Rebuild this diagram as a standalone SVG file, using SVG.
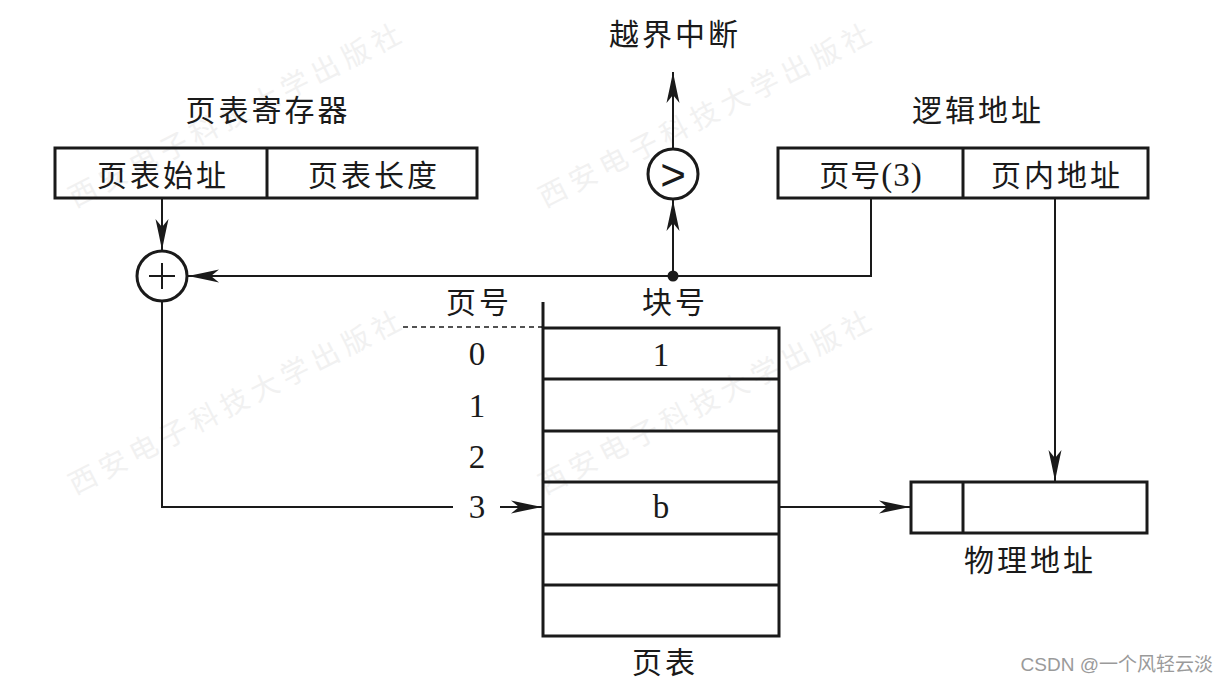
<svg xmlns="http://www.w3.org/2000/svg" width="1229" height="683" viewBox="0 0 1229 683">
<style>
.box{fill:none;stroke:#1a1a1a;stroke-width:3}
.ln{fill:none;stroke:#1a1a1a;stroke-width:2}
.cn{font-family:"Noto Sans CJK SC","Noto Sans",sans-serif;font-size:30px;fill:#1a1a1a;text-anchor:middle;letter-spacing:3px}
.num{font-family:"Liberation Serif",serif;font-size:33px;fill:#1a1a1a;text-anchor:middle}
.wm{font-family:"Noto Sans CJK SC",sans-serif;font-size:28px;fill:#f1f1f1;letter-spacing:6px}
</style>
<defs>
<marker id="ah" markerUnits="userSpaceOnUse" markerWidth="32" markerHeight="14" refX="31" refY="7" orient="auto">
<path d="M0,0.5 Q16,4 31,7 Q16,10 0,13.5 L8,7 z" fill="#1a1a1a"/>
</marker>
</defs>
<rect width="1229" height="683" fill="#ffffff"/>
<g id="watermarks">
<text class="wm" transform="translate(75,495) rotate(-27)">西安电子科技大学出版社</text>
<text class="wm" transform="translate(545,495) rotate(-27)">西安电子科技大学出版社</text>
<text class="wm" transform="translate(75,208) rotate(-27)">西安电子科技大学出版社</text>
<text class="wm" transform="translate(545,208) rotate(-27)">西安电子科技大学出版社</text>
</g>
<g id="connectors">
<line class="ln" x1="162" y1="199" x2="162" y2="250" marker-end="url(#ah)"/>
<polyline class="ln" points="871,199 871,276 188,276" marker-end="url(#ah)"/>
<line class="ln" x1="673" y1="276" x2="673" y2="200" marker-end="url(#ah)"/>
<line class="ln" x1="673" y1="148" x2="673" y2="72" marker-end="url(#ah)"/>
<polyline class="ln" points="162,302 162,507 453,507"/>
<line class="ln" x1="500" y1="507" x2="542" y2="507" marker-end="url(#ah)"/>
<line class="ln" x1="779" y1="507" x2="910" y2="507" marker-end="url(#ah)"/>
<line class="ln" x1="1055" y1="199" x2="1055" y2="481" marker-end="url(#ah)"/>
<line x1="403" y1="327" x2="543" y2="327" stroke="#1a1a1a" stroke-width="1.5" stroke-dasharray="5,4"/>
<circle cx="673" cy="276" r="5.5" fill="#1a1a1a"/>
</g>
<g id="register">
<text class="cn" x="268" y="121">页表寄存器</text>
<rect class="box" x="55" y="148" width="422" height="50"/>
<line class="box" x1="267" y1="148" x2="267" y2="198"/>
<text class="cn" x="163" y="186">页表始址</text>
<text class="cn" x="374" y="186">页表长度</text>
</g>
<g id="adder">
<circle class="box" cx="162" cy="276" r="25"/>
<line class="ln" x1="149" y1="276" x2="175" y2="276"/>
<line class="ln" x1="162" y1="263" x2="162" y2="289"/>
</g>
<g id="comparator">
<circle class="box" cx="673" cy="174" r="25"/>
<text x="673" y="190" font-family="Liberation Sans,sans-serif" font-size="44" text-anchor="middle" fill="#1a1a1a">&gt;</text>
<text class="cn" x="675" y="45">越界中断</text>
</g>
<g id="logical">
<text class="cn" x="978" y="121">逻辑地址</text>
<rect class="box" x="778" y="148" width="370" height="50"/>
<line class="box" x1="963" y1="148" x2="963" y2="198"/>
<text class="cn" x="871" y="186" style="letter-spacing:1px">页号<tspan font-family="Liberation Serif,serif" font-size="33">(3)</tspan></text>
<text class="cn" x="1057" y="186">页内地址</text>
</g>
<g id="pagetable">
<text class="cn" x="479" y="313">页号</text>
<text class="cn" x="675" y="313">块号</text>
<line class="box" x1="543" y1="302" x2="543" y2="328"/>
<rect class="box" x="543" y="328" width="236" height="308"/>
<line class="box" x1="543" y1="379" x2="779" y2="379"/>
<line class="box" x1="543" y1="431" x2="779" y2="431"/>
<line class="box" x1="543" y1="482" x2="779" y2="482"/>
<line class="box" x1="543" y1="534" x2="779" y2="534"/>
<line class="box" x1="543" y1="585" x2="779" y2="585"/>
<text class="num" x="477" y="365">0</text>
<text class="num" x="477" y="417">1</text>
<text class="num" x="477" y="468">2</text>
<text class="num" x="477" y="518">3</text>
<text class="num" x="661" y="366">1</text>
<text class="num" x="661" y="518">b</text>
<text class="cn" x="665" y="673">页表</text>
</g>
<g id="physical">
<rect class="box" x="911" y="482" width="236" height="51"/>
<line class="box" x1="963" y1="482" x2="963" y2="533"/>
<text class="cn" x="1030" y="571">物理地址</text>
</g>
<text x="1213" y="671" font-family="Liberation Sans,'Noto Sans CJK SC',sans-serif" font-size="19" fill="#9a9a9a" text-anchor="end">CSDN @一个风轻云淡</text>
</svg>
